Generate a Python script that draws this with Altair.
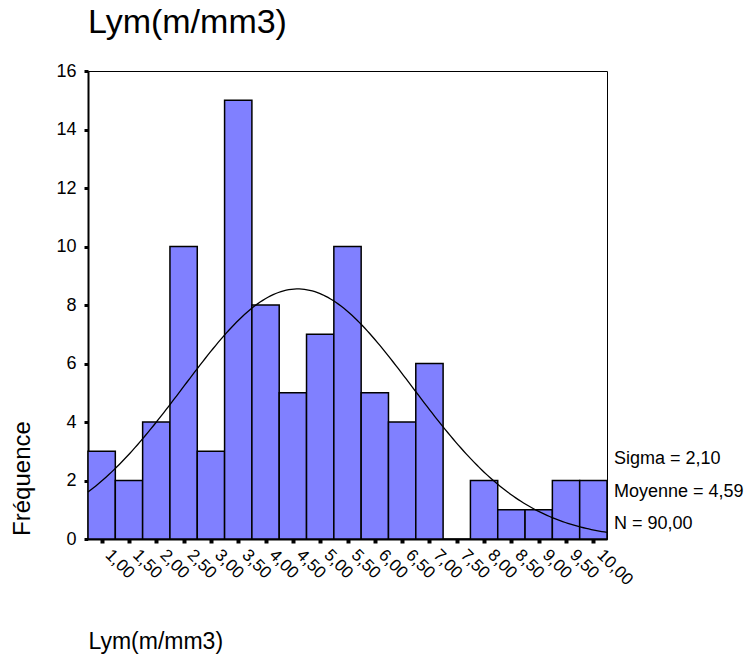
import altair as alt
import numpy as np
import pandas as pd

# Histogram of lymphocyte counts (bins of width 0.5, centred on the tick values)
bin_centers = [1.00, 1.50, 2.00, 2.50, 3.00, 3.50, 4.00, 4.50, 5.00, 5.50,
               6.00, 6.50, 7.00, 7.50, 8.00, 8.50, 9.00, 9.50, 10.00]
counts = [3, 2, 4, 10, 3, 15, 8, 5, 7, 10, 5, 4, 6, 0, 2, 1, 1, 2, 2]
bin_width = 0.5

# Summary statistics shown beside the plot
sigma = 2.10
moyenne = 4.59
n_total = 90.00

FONT = "Liberation Sans"
BAR_FILL = "#8080FF"

bars_df = pd.DataFrame({
    "center": bin_centers,
    "start": [c - bin_width / 2 for c in bin_centers],
    "end": [c + bin_width / 2 for c in bin_centers],
    "count": counts,
})

# Fitted normal curve scaled to the histogram (N * bin width * density)
x_lo = bin_centers[0] - bin_width / 2
x_hi = bin_centers[-1] + bin_width / 2
xs = np.linspace(x_lo, x_hi, 200)
ys = n_total * bin_width * np.exp(-0.5 * ((xs - moyenne) / sigma) ** 2) / (sigma * np.sqrt(2 * np.pi))
curve_df = pd.DataFrame({"x": xs, "y": ys})

def fr(v, d=2):
    return f"{v:.{d}f}".replace(".", ",")

stats_lines = [f"Sigma = {fr(sigma)}", f"Moyenne = {fr(moyenne)}", f"N = {fr(n_total)}"]

x_scale = alt.Scale(domain=[x_lo, x_hi], nice=False, zero=False)
y_scale = alt.Scale(domain=[0, 16], nice=False)

x_axis = alt.Axis(
    values=bin_centers,
    labelExpr="replace(format(datum.value, '.2f'), '.', ',')",
    labelAngle=45, labelAlign="left", labelBaseline="middle",
    labelFontSize=17, labelPadding=9, labelOffset=6, labelOverlap=False,
    labelBound=False, labelFlush=False,
    tickSize=4, tickWidth=4, tickColor="black",
    domainWidth=2, domainColor="black",
    grid=False, title="Lym(m/mm3)", titleFontSize=23, titleFontWeight="normal",
    titleX=0, titleY=102, titleAlign="left", titleBaseline="middle",
    titleAnchor="start",
)
y_axis = alt.Axis(
    values=list(range(0, 17, 2)),
    labelFontSize=18, labelPadding=8, labelOverlap=False,
    tickSize=4, tickWidth=3, tickColor="black",
    domainWidth=2, domainColor="black",
    grid=False, title="Fréquence", titleFontSize=24, titleFontWeight="normal",
    titleAngle=-90, titleX=-66, titleY=407, titleAlign="center", titleBaseline="middle",
)

bars = alt.Chart(bars_df).mark_rect(
    fill=BAR_FILL, stroke="black", strokeWidth=1.5
).encode(
    x=alt.X("start:Q", scale=x_scale, axis=x_axis),
    x2="end:Q",
    y=alt.Y("count:Q", scale=y_scale, axis=y_axis),
    y2=alt.datum(0),
)

curve = alt.Chart(curve_df).mark_line(color="black", strokeWidth=1.3).encode(
    x=alt.X("x:Q", scale=x_scale, axis=x_axis),
    y=alt.Y("y:Q", scale=y_scale, axis=y_axis),
)

def stat_text(txt, ypix):
    return alt.Chart(pd.DataFrame({"t": [txt]})).mark_text(
        align="left", baseline="middle", fontSize=18, font=FONT, color="black"
    ).encode(x=alt.value(526), y=alt.value(ypix), text="t:N")

texts = [stat_text(t, yp) for t, yp in zip(stats_lines, [388, 421, 453])]

chart = alt.layer(bars, curve, *texts).properties(
    width=519, height=468,
    title=alt.TitleParams("Lym(m/mm3)", anchor="start", frame="group", fontSize=34,
                          fontWeight="normal", font=FONT, color="black", offset=22),
    autosize=alt.AutoSizeParams(type="none"),
    padding={"left": 88, "top": 71, "right": 147, "bottom": 118},
).configure(font=FONT).configure_view(
    stroke="black", strokeWidth=1
).configure_axis(
    labelFont=FONT, titleFont=FONT, labelColor="black", titleColor="black"
)

chart.save("out.html", embed_options={"renderer": "svg", "actions": False})
